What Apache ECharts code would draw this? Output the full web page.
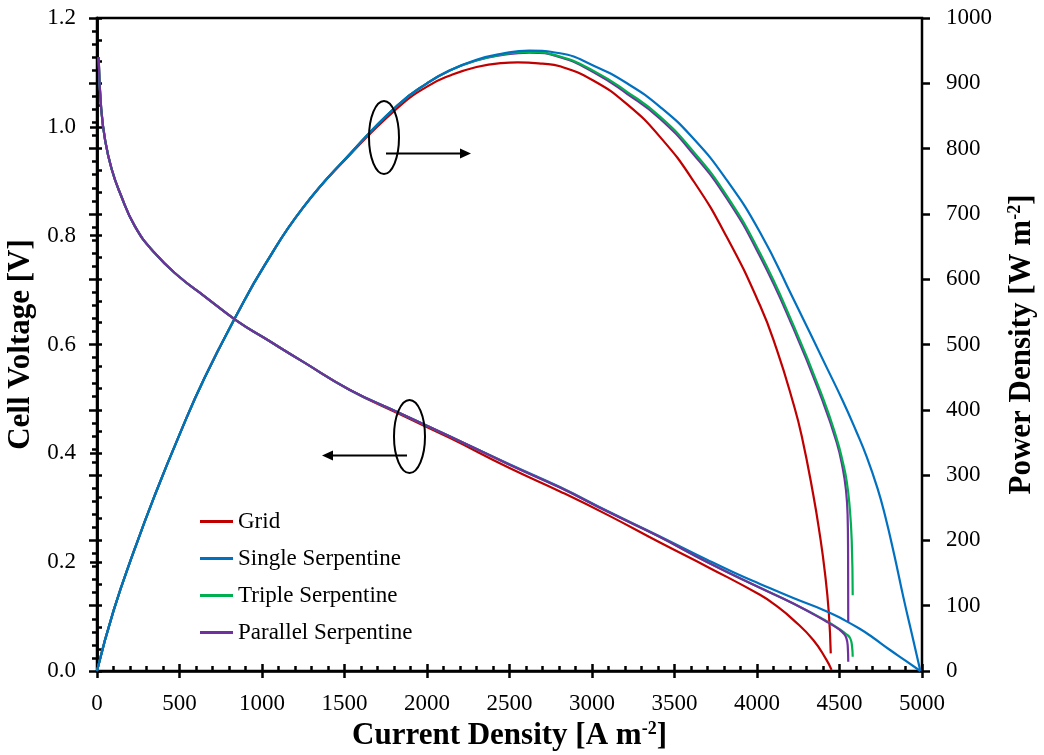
<!DOCTYPE html>
<html>
<head>
<meta charset="utf-8">
<script src="https://cdn.jsdelivr.net/npm/echarts@6/dist/echarts.min.js"></script>
<style>html,body{margin:0;padding:0;background:#fff;}#c{width:1044px;height:755px;}</style>
</head>
<body>
<div id="c"></div>
<script>
// ---- Data ----
const seriesNames = ['Grid', 'Single Serpentine', 'Triple Serpentine', 'Parallel Serpentine'];
const xTicks = [0, 500, 1000, 1500, 2000, 2500, 3000, 3500, 4000, 4500, 5000];

// Cell voltage [V] vs current density [A m-2]
const gridVi   = [10, 25, 50, 90, 140, 230, 350, 500, 650, 850, 1020, 1250, 1530, 1820, 2140, 2500, 2806, 3100, 3412, 3715, 4018, 4120, 4220, 4341, 4422, 4452];
const gridV    = [1.128, 1.035, 0.974, 0.921, 0.878, 0.817, 0.768, 0.724, 0.689, 0.643, 0.611, 0.568, 0.517, 0.474, 0.428, 0.373, 0.330, 0.286, 0.236, 0.189, 0.140, 0.119, 0.094, 0.057, 0.020, 0.002];
const singleVi = [10, 25, 50, 90, 140, 230, 350, 500, 650, 850, 1020, 1250, 1530, 1820, 2140, 2500, 2806, 3100, 3400, 3700, 3860, 4018, 4220, 4420, 4520, 4620, 4700, 4800, 4900, 4990];
const singleV  = [1.128, 1.035, 0.974, 0.921, 0.878, 0.817, 0.768, 0.724, 0.689, 0.643, 0.611, 0.568, 0.517, 0.476, 0.431, 0.380, 0.338, 0.293, 0.249, 0.204, 0.181, 0.160, 0.134, 0.110, 0.095, 0.078, 0.062, 0.040, 0.019, 0.0];
const tripleVi = [10, 25, 50, 90, 140, 230, 350, 500, 650, 850, 1020, 1250, 1530, 1820, 2140, 2500, 2806, 3100, 3400, 3700, 4018, 4220, 4420, 4500, 4540, 4565, 4576, 4580];
const tripleV  = [1.128, 1.035, 0.974, 0.921, 0.878, 0.817, 0.768, 0.724, 0.689, 0.643, 0.611, 0.568, 0.517, 0.476, 0.431, 0.379, 0.337, 0.292, 0.248, 0.200, 0.153, 0.124, 0.092, 0.077, 0.068, 0.060, 0.045, 0.026];
const parallelVi = [10, 25, 50, 90, 140, 230, 350, 500, 650, 850, 1020, 1250, 1530, 1820, 2140, 2500, 2806, 3100, 3400, 3700, 4018, 4220, 4420, 4500, 4525, 4542, 4550, 4553];
const parallelV  = [1.128, 1.035, 0.974, 0.921, 0.878, 0.817, 0.768, 0.724, 0.689, 0.643, 0.611, 0.568, 0.517, 0.476, 0.431, 0.379, 0.337, 0.292, 0.248, 0.200, 0.153, 0.124, 0.091, 0.076, 0.069, 0.060, 0.045, 0.017];

// Power density [W m-2] vs current density [A m-2]
const gridPi   = [0, 100, 230, 350, 500, 650, 850, 1020, 1250, 1530, 1820, 2000, 2140, 2300, 2450, 2550, 2700, 2806, 3010, 3212, 3412, 3616, 3816, 4018, 4120, 4220, 4271, 4341, 4380, 4412, 4435, 4447];
const gridP    = [0, 92, 188, 269, 362, 448, 547, 623, 710, 790, 862, 895, 912, 925, 931, 932, 930, 926, 904, 868, 818, 750, 665, 560, 492, 410, 360, 270, 210, 150, 90, 27];
const singlePi = [0, 100, 230, 350, 500, 650, 850, 1020, 1250, 1530, 1820, 2000, 2140, 2300, 2450, 2620, 2806, 3010, 3212, 3412, 3616, 3816, 4018, 4220, 4422, 4523, 4600, 4665, 4730, 4776, 4830, 4888, 4940, 4990];
const singleP  = [0, 92, 188, 269, 362, 448, 547, 623, 710, 791, 866, 900, 920, 936, 945, 950, 946, 927, 900, 864, 815, 752, 672, 570, 465, 412, 368, 328, 280, 238, 180, 112, 55, 0];
const triplePi = [0, 100, 230, 350, 500, 650, 850, 1020, 1250, 1530, 1820, 2000, 2140, 2300, 2450, 2620, 2806, 3010, 3212, 3412, 3616, 3816, 4018, 4220, 4400, 4483, 4520, 4544, 4562, 4574, 4580];
const tripleP  = [0, 92, 188, 269, 362, 448, 547, 623, 710, 791, 866, 900, 920, 935, 944, 948, 941, 919, 887, 849, 795, 728, 640, 530, 418, 356, 320, 290, 250, 200, 116];
const parallelPi = [0, 100, 230, 350, 500, 650, 850, 1020, 1250, 1530, 1820, 2000, 2140, 2300, 2450, 2620, 2806, 3010, 3212, 3412, 3616, 3816, 4018, 4220, 4400, 4483, 4520, 4540, 4549, 4552, 4553];
const parallelP  = [0, 92, 188, 269, 362, 448, 547, 623, 710, 791, 866, 900, 920, 935, 943, 947, 940, 917, 884, 846, 791, 724, 635, 525, 412, 350, 310, 275, 240, 180, 75];

// ---- Styles ----
const colors = {
  'Grid': '#C00000',
  'Single Serpentine': '#0070C0',
  'Triple Serpentine': '#00B050',
  'Parallel Serpentine': '#7030A0'
};
const FONT = '"Liberation Serif", "Times New Roman", serif';

function pairs(xs, ys) { return xs.map((x, k) => [x, ys[k]]); }
function mk(name, xs, ys, yIndex) {
  return {
    name: name, type: 'line', yAxisIndex: yIndex, xAxisIndex: 0,
    data: pairs(xs, ys), smooth: 0.5, showSymbol: false, symbol: 'none',
    lineStyle: { color: colors[name], width: 2.2 }, itemStyle: { color: colors[name] },
    silent: true, animation: false, z: 3
  };
}

const chart = echarts.init(document.getElementById('c'), null, { renderer: 'canvas' });

const tickLabel = { fontFamily: FONT, fontSize: 23, color: '#000' };
const nameStyle = {
  fontFamily: FONT, fontSize: 31, fontWeight: 'bold', color: '#000',
  rich: { sup: { fontFamily: FONT, fontSize: 18, fontWeight: 'bold', color: '#000', verticalAlign: 'top', padding: [0, 0, 13, 0] } }
};
const axLine = { show: true, lineStyle: { color: '#000', width: 2.5 } };
const plain = v => String(v);

const option = {
  backgroundColor: '#fff',
  animation: false,
  grid: { left: 97, right: 122, top: 18, bottom: 84, show: true, borderColor: '#000', borderWidth: 2.5, containLabel: false, outerBoundsMode: 'none' },
  legend: {
    data: seriesNames, orient: 'vertical', left: 195, top: 505,
    icon: 'rect', itemWidth: 33, itemHeight: 3, itemGap: 14,
    textStyle: { fontFamily: FONT, fontSize: 23, color: '#000' },
    selectedMode: false
  },
  xAxis: [
    {
      type: 'value', min: xTicks[0], max: xTicks[xTicks.length - 1], interval: 500, position: 'bottom',
      name: 'Current Density [A m{sup|-2}]', nameLocation: 'middle', nameGap: 49, nameTextStyle: nameStyle,
      axisLine: axLine,
      axisTick: { show: true, inside: true, length: 7, lineStyle: { color: '#000', width: 2.5 } },
      minorTick: { show: true, splitNumber: 5, length: 5, lineStyle: { color: '#000', width: 2.5 } },
      axisLabel: Object.assign({ margin: 21, formatter: plain }, tickLabel),
      splitLine: { show: false }, minorSplitLine: { show: false }
    },
    {
      type: 'value', min: xTicks[0], max: xTicks[xTicks.length - 1], interval: 500, position: 'bottom',
      axisLine: { show: false },
      axisTick: { show: true, inside: false, length: 7, lineStyle: { color: '#000', width: 2.5 } },
      axisLabel: { show: false }, splitLine: { show: false }
    }
  ],
  yAxis: [
    {
      type: 'value', min: 0, max: 1.2, interval: 0.2, position: 'left',
      name: 'Cell Voltage [V]', nameLocation: 'middle', nameGap: 53, nameTextStyle: nameStyle,
      axisLine: axLine,
      axisTick: { show: true, inside: true, length: 5, lineStyle: { color: '#000', width: 2.5 } },
      minorTick: { show: true, splitNumber: 5, length: 5, lineStyle: { color: '#000', width: 2.5 } },
      axisLabel: Object.assign({ margin: 21, formatter: v => v.toFixed(1) }, tickLabel),
      splitLine: { show: false }
    },
    {
      type: 'value', min: 0, max: 1000, interval: 100, position: 'right',
      name: 'Power Density [W m{sup|-2}]', nameLocation: 'middle', nameGap: 84, nameTextStyle: nameStyle,
      axisLine: axLine,
      axisTick: { show: true, inside: true, length: 8, lineStyle: { color: '#000', width: 2.5 } },
      minorTick: { show: true, splitNumber: 5, length: 5, lineStyle: { color: '#000', width: 2.5 } },
      axisLabel: Object.assign({ margin: 24, formatter: plain }, tickLabel),
      splitLine: { show: false }
    },
    {
      type: 'value', min: 0, max: 1.2, interval: 0.2, position: 'left',
      axisLine: { show: false },
      axisTick: { show: true, inside: false, length: 7, lineStyle: { color: '#000', width: 2.5 } },
      axisLabel: { show: false }, splitLine: { show: false }
    },
    {
      type: 'value', min: 0, max: 1000, interval: 100, position: 'right',
      axisLine: { show: false },
      axisTick: { show: true, inside: false, length: 8, lineStyle: { color: '#000', width: 2.5 } },
      axisLabel: { show: false }, splitLine: { show: false }
    }
  ],
  series: [
    mk('Grid', gridPi, gridP, 1),
    mk('Parallel Serpentine', parallelPi, parallelP, 1),
    mk('Triple Serpentine', triplePi, tripleP, 1),
    mk('Single Serpentine', singlePi, singleP, 1),
    mk('Grid', gridVi, gridV, 0),
    mk('Single Serpentine', singleVi, singleV, 0),
    mk('Triple Serpentine', tripleVi, tripleV, 0),
    mk('Parallel Serpentine', parallelVi, parallelV, 0)
  ],
  graphic: [
    { type: 'ellipse', shape: { cx: 384, cy: 137.5, rx: 15, ry: 36.5 }, style: { fill: 'none', stroke: '#000', lineWidth: 2 }, z: 10 },
    { type: 'line', shape: { x1: 386, y1: 153.5, x2: 462, y2: 153.5 }, style: { stroke: '#000', lineWidth: 2 }, z: 10 },
    { type: 'polygon', shape: { points: [[460, 148.5], [471, 153.5], [460, 158.5]] }, style: { fill: '#000' }, z: 10 },
    { type: 'ellipse', shape: { cx: 409.5, cy: 436.5, rx: 15.5, ry: 36.5 }, style: { fill: 'none', stroke: '#000', lineWidth: 2 }, z: 10 },
    { type: 'line', shape: { x1: 407, y1: 455.5, x2: 331, y2: 455.5 }, style: { stroke: '#000', lineWidth: 2 }, z: 10 },
    { type: 'polygon', shape: { points: [[333, 450.5], [322, 455.5], [333, 460.5]] }, style: { fill: '#000' }, z: 10 }
  ]
};
chart.setOption(option);
</script>
</body>
</html>
